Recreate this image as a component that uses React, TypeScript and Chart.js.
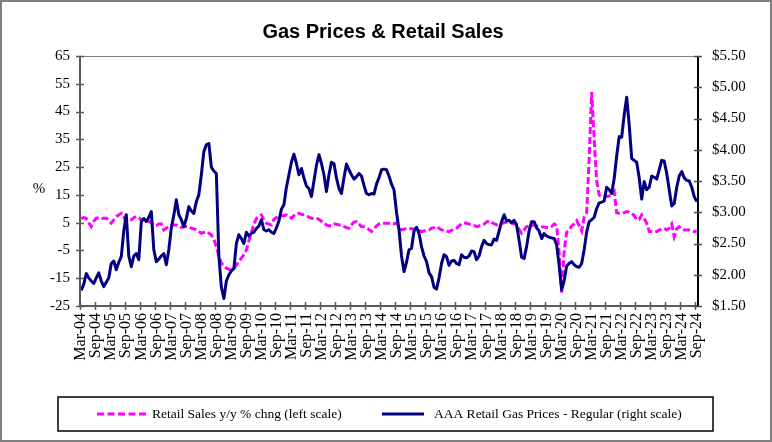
import React, { useEffect, useRef } from 'react';
import { Chart, registerables } from 'chart.js';

Chart.register(...registerables);

// Monthly data, Mar-04 through Sep-24
const START_YEAR = 2004;
const START_MONTH = 2; // March (0-based)
const MONTH_NAMES = ['Jan', 'Feb', 'Mar', 'Apr', 'May', 'Jun', 'Jul', 'Aug', 'Sep', 'Oct', 'Nov', 'Dec'];

// AAA Retail Gas Prices - Regular ($/gal), right scale
const GAS_PRICES: number[] = [
  1.75, 1.85, 2.02, 1.95, 1.90, 1.86, 1.95, 2.03, 1.90, 1.81,
  1.88, 1.95, 2.18, 2.22, 2.08, 2.20, 2.29, 2.70, 2.96, 2.30, 2.13, 2.30,
  2.34, 2.24, 2.85, 2.90, 2.85, 2.92, 3.01, 2.40, 2.21, 2.25, 2.30, 2.34,
  2.16, 2.40, 2.75, 2.95, 3.20, 2.96, 2.88, 2.77, 2.90, 3.09, 3.02, 2.98,
  3.17, 3.28, 3.60, 3.97, 4.08, 4.10, 3.72, 3.66, 3.62, 2.30, 1.80, 1.62,
  1.90, 2.00, 2.06, 2.10, 2.50, 2.64, 2.58, 2.50, 2.68, 2.62, 2.66, 2.68,
  2.74, 2.78, 2.88, 2.72, 2.70, 2.72, 2.68, 2.66, 2.75, 2.86, 3.05, 3.12,
  3.40, 3.60, 3.80, 3.93, 3.78, 3.60, 3.70, 3.55, 3.42, 3.38, 3.25, 3.50,
  3.75, 3.92, 3.78, 3.60, 3.33, 3.60, 3.80, 3.78, 3.55, 3.38, 3.30, 3.55,
  3.77, 3.68, 3.60, 3.53, 3.57, 3.62, 3.58, 3.43, 3.30, 3.28, 3.30, 3.29,
  3.45, 3.55, 3.68, 3.69, 3.68, 3.58, 3.45, 3.36, 3.00, 2.72, 2.30, 2.05,
  2.20, 2.40, 2.42, 2.70, 2.76, 2.66, 2.45, 2.30, 2.21, 2.03, 1.97, 1.80,
  1.77, 1.95, 2.18, 2.32, 2.29, 2.15, 2.22, 2.23, 2.18, 2.16, 2.32, 2.28,
  2.27, 2.30, 2.38, 2.37, 2.24, 2.30, 2.45, 2.55, 2.50, 2.48, 2.48, 2.57,
  2.55, 2.70, 2.85, 2.96, 2.86, 2.87, 2.83, 2.87, 2.80, 2.55, 2.28, 2.26,
  2.45, 2.70, 2.85, 2.85, 2.75, 2.70, 2.58, 2.66, 2.62, 2.60, 2.59, 2.58,
  2.48, 2.15, 1.76, 1.90, 2.14, 2.18, 2.21, 2.16, 2.13, 2.12, 2.18, 2.40,
  2.68, 2.85, 2.88, 2.92, 3.06, 3.15, 3.16, 3.18, 3.40, 3.36, 3.30, 3.54,
  3.90, 4.21, 4.20, 4.56, 4.84, 4.40, 3.86, 3.83, 3.80, 3.55, 3.21, 3.49,
  3.36, 3.40, 3.58, 3.56, 3.53, 3.68, 3.83, 3.82, 3.62, 3.36, 3.10, 3.14,
  3.40, 3.58, 3.65, 3.55, 3.51, 3.50, 3.40, 3.25, 3.17,
];

// Retail Sales y/y % chng, left scale
const RETAIL_SALES_YOY: number[] = [
  6.5, 6.8, 6.5, 5.0, 3.6, 5.5, 6.6, 6.8, 6.5, 6.6,
  6.6, 5.8, 4.8, 6.0, 7.2, 7.8, 8.4, 7.0, 5.4, 5.8, 6.0, 6.8,
  7.2, 6.8, 6.0, 6.2, 5.8, 5.4, 5.0, 4.2, 4.0, 4.5, 4.5, 2.4,
  3.0, 3.6, 4.0, 4.2, 4.2, 3.8, 3.3, 3.5, 3.6, 3.6, 3.0, 2.8,
  2.4, 1.8, 1.2, 1.5, 1.8, 1.2, 0.6, -1.0, -3.6, -7.0, -9.6, -10.5,
  -11.4, -11.8, -12.0, -11.5, -10.2, -9.0, -7.8, -6.5, -4.8, -1.5, 1.5, 4.5,
  6.5, 7.2, 7.8, 6.0, 4.8, 4.5, 4.2, 6.2, 6.8, 7.2, 7.5, 7.5,
  7.8, 7.2, 6.6, 7.5, 8.2, 8.4, 8.0, 7.8, 7.5, 7.0, 6.6, 6.5,
  6.6, 6.2, 5.5, 4.8, 4.2, 3.8, 4.0, 4.5, 4.4, 4.2, 4.2, 3.6,
  3.2, 3.0, 4.2, 5.2, 5.4, 4.5, 3.6, 3.5, 3.3, 2.5, 1.8, 2.8,
  3.8, 4.5, 4.6, 4.8, 4.8, 4.8, 4.8, 4.6, 4.8, 3.8, 2.4, 2.6,
  3.0, 3.0, 2.8, 2.6, 2.4, 2.2, 1.8, 2.0, 2.2, 2.4, 3.0, 3.2,
  3.6, 3.0, 2.4, 2.2, 2.0, 1.8, 2.2, 2.6, 3.0, 3.8, 4.5, 5.0,
  4.8, 4.5, 4.2, 4.0, 3.6, 3.8, 4.2, 4.5, 5.2, 5.7, 5.2, 4.6,
  4.2, 4.5, 4.8, 5.0, 5.2, 5.4, 5.0, 4.6, 4.2, 2.5, 1.2, 2.4,
  3.6, 3.8, 4.0, 4.2, 3.8, 3.6, 3.5, 3.4, 3.3, 3.2, 3.6, 4.5,
  4.0, -6.0, -20.2, -5.5, 1.5, 2.4, 3.8, 4.5, 5.7, 4.0, 2.0, 7.0,
  8.5, 28.0, 52.0, 35.0, 20.0, 15.0, 14.4, 14.4, 14.4, 14.6, 15.0, 16.2,
  8.6, 8.4, 8.4, 8.6, 9.0, 8.8, 8.4, 7.5, 6.0, 6.2, 7.8, 6.5,
  4.8, 1.8, 1.8, 1.6, 1.8, 2.4, 2.6, 3.0, 2.4, 3.0, 4.5, 0.0,
  2.8, 3.6, 3.0, 2.4, 2.4, 2.4, 2.2, 1.8, 2.0,
];

// Category labels (one per month) and which ones are shown as tick labels
const CATEGORIES: string[] = GAS_PRICES.map((_, i) => {
  const m = START_MONTH + i;
  const yy = (START_YEAR + Math.floor(m / 12)) % 100;
  return `${MONTH_NAMES[m % 12]}-${String(yy).padStart(2, '0')}`;
});
const TICK_EVERY = 6;

const LEFT_MIN = -25;
const LEFT_MAX = 65;
const LEFT_STEP = 10;
const RIGHT_MIN = 1.5;
const RIGHT_MAX = 5.5;
const RIGHT_STEP = 0.5;

const TITLE = 'Gas Prices & Retail Sales';
const LEFT_UNIT = '%';
const RETAIL_LABEL = 'Retail Sales y/y % chng (left scale)';
const GAS_LABEL = 'AAA Retail Gas Prices - Regular (right scale)';

const SERIF = '"Liberation Serif", "Times New Roman", serif';
const SANS = '"Liberation Sans", Arial, sans-serif';
const MAGENTA = '#FF00FF';
const NAVY = '#000080';

const decorPlugin = {
  id: 'decor',
  beforeDraw(chart: any) {
    const { ctx, width, height } = chart;
    ctx.save();
    ctx.fillStyle = '#ffffff';
    ctx.fillRect(0, 0, width, height);
    ctx.restore();
  },
  afterDatasetsDraw(chart: any) {
    const { ctx, chartArea, scales } = chart;
    const { left, right, top, bottom } = chartArea;
    const x = scales.x;
    const y = scales.y;
    const y1 = scales.y1;
    ctx.save();

    // plot area top border
    ctx.strokeStyle = '#808080';
    ctx.lineWidth = 1;
    ctx.beginPath();
    ctx.moveTo(left, top + 0.5);
    ctx.lineTo(right, top + 0.5);
    ctx.stroke();

    // left axis + ticks
    ctx.strokeStyle = '#5a5a5a';
    ctx.lineWidth = 2;
    ctx.beginPath();
    ctx.moveTo(left, top);
    ctx.lineTo(left, bottom);
    ctx.stroke();
    ctx.lineWidth = 1.5;
    for (let v = LEFT_MIN; v <= LEFT_MAX + 0.001; v += LEFT_STEP) {
      const py = Math.round(y.getPixelForValue(v)) + 0.5;
      ctx.beginPath();
      ctx.moveTo(left - 4, py);
      ctx.lineTo(left + 4, py);
      ctx.stroke();
    }

    // bottom axis + ticks at category boundaries
    ctx.lineWidth = 2;
    ctx.beginPath();
    ctx.moveTo(left, bottom);
    ctx.lineTo(right, bottom);
    ctx.stroke();
    ctx.lineWidth = 1.5;
    const half = (x.getPixelForValue(1) - x.getPixelForValue(0)) / 2;
    for (let i = 0; i < CATEGORIES.length; i += TICK_EVERY) {
      const px = Math.round(x.getPixelForValue(i) - half) + 0.5;
      ctx.beginPath();
      ctx.moveTo(px, bottom - 4);
      ctx.lineTo(px, bottom + 4);
      ctx.stroke();
    }

    // right axis + ticks
    ctx.strokeStyle = '#000000';
    ctx.lineWidth = 2;
    ctx.beginPath();
    ctx.moveTo(right, top);
    ctx.lineTo(right, bottom);
    ctx.stroke();
    ctx.strokeStyle = '#4a4a4a';
    ctx.lineWidth = 1.5;
    for (let v = RIGHT_MIN; v <= RIGHT_MAX + 0.001; v += RIGHT_STEP) {
      const py = Math.round(y1.getPixelForValue(v)) + 0.5;
      ctx.beginPath();
      ctx.moveTo(right - 4, py);
      ctx.lineTo(right + 4, py);
      ctx.stroke();
    }
    ctx.restore();
  },
  afterDraw(chart: any) {
    const { ctx, width, height, scales } = chart;
    ctx.save();

    // title
    ctx.fillStyle = '#000';
    ctx.font = `bold 20px ${SANS}`;
    ctx.textAlign = 'center';
    ctx.textBaseline = 'middle';
    ctx.fillText(TITLE, 383, 32);

    // left unit label
    ctx.font = `15px ${SERIF}`;
    ctx.textAlign = 'center';
    ctx.fillText(LEFT_UNIT, 39, scales.y.getPixelForValue(17));

    // legend box
    const lx = 58, ly = 397, lw = 655, lh = 34;
    ctx.strokeStyle = '#000';
    ctx.lineWidth = 1.5;
    ctx.strokeRect(lx, ly, lw, lh);
    const cy = ly + lh / 2;

    ctx.lineWidth = 3;
    ctx.strokeStyle = MAGENTA;
    ctx.setLineDash([7, 3.5]);
    ctx.beginPath();
    ctx.moveTo(97, cy);
    ctx.lineTo(149, cy);
    ctx.stroke();
    ctx.setLineDash([]);

    ctx.strokeStyle = NAVY;
    ctx.beginPath();
    ctx.moveTo(382, cy);
    ctx.lineTo(424, cy);
    ctx.stroke();

    ctx.fillStyle = '#000';
    ctx.font = `13.5px ${SERIF}`;
    ctx.textAlign = 'left';
    ctx.textBaseline = 'middle';
    ctx.fillText(RETAIL_LABEL, 152, cy);
    ctx.fillText(GAS_LABEL, 434, cy);

    // outer chart border
    ctx.strokeStyle = '#808080';
    ctx.lineWidth = 2;
    ctx.strokeRect(1, 1, width - 2, height - 2);
    ctx.restore();
  },
};

export default function App() {
  const canvasRef = useRef<HTMLCanvasElement | null>(null);

  useEffect(() => {
    document.body.style.margin = '0';
    const canvas = canvasRef.current;
    if (!canvas) return;
    const chart = new Chart(canvas, {
      type: 'line',
      data: {
        labels: CATEGORIES,
        datasets: [
          {
            label: RETAIL_LABEL,
            data: RETAIL_SALES_YOY,
            yAxisID: 'y',
            borderColor: MAGENTA,
            backgroundColor: MAGENTA,
            borderWidth: 3,
            borderDash: [7, 3],
            pointRadius: 0,
            tension: 0,
            fill: false,
            order: 2,
          },
          {
            label: GAS_LABEL,
            data: GAS_PRICES,
            yAxisID: 'y1',
            borderColor: NAVY,
            backgroundColor: NAVY,
            borderWidth: 3,
            borderJoinStyle: 'round',
            pointRadius: 0,
            tension: 0,
            fill: false,
            order: 1,
          },
        ],
      },
      options: {
        animation: false,
        responsive: false,
        maintainAspectRatio: false,
        devicePixelRatio: 1,
        layout: { padding: { left: 0, right: 0, top: 56, bottom: 0 } },
        plugins: {
          legend: { display: false },
          title: { display: false },
          tooltip: { enabled: false },
        },
        elements: { point: { radius: 0 } },
        scales: {
          x: {
            type: 'category',
            offset: true,
            grid: { display: false, drawTicks: false },
            border: { display: false },
            ticks: {
              autoSkip: false,
              minRotation: 90,
              maxRotation: 90,
              padding: 7,
              color: '#000',
              font: { family: SERIF, size: 16 },
              callback: (_v: any, idx: number) => (idx % TICK_EVERY === 0 ? CATEGORIES[idx] : ''),
            },
            afterFit: (s: any) => {
              s.height = 136;
            },
          },
          y: {
            type: 'linear',
            position: 'left',
            min: LEFT_MIN,
            max: LEFT_MAX,
            grid: { display: false, drawTicks: false },
            border: { display: false },
            ticks: {
              stepSize: LEFT_STEP,
              padding: 10,
              color: '#000',
              font: { family: SERIF, size: 15 },
            },
            afterFit: (s: any) => {
              s.width = 80;
            },
          },
          y1: {
            type: 'linear',
            position: 'right',
            min: RIGHT_MIN,
            max: RIGHT_MAX,
            grid: { display: false, drawTicks: false },
            border: { display: false },
            ticks: {
              stepSize: RIGHT_STEP,
              padding: 14,
              color: '#000',
              font: { family: SERIF, size: 15 },
              callback: (v: any) => '$' + Number(v).toFixed(2),
            },
            afterFit: (s: any) => {
              s.width = 74;
            },
          },
        },
      },
      plugins: [decorPlugin],
    } as any);
    return () => chart.destroy();
  }, []);

  return (
    <div style={{ width: 772, height: 442 }}>
      <canvas ref={canvasRef} width={772} height={442} style={{ display: 'block' }} />
    </div>
  );
}
